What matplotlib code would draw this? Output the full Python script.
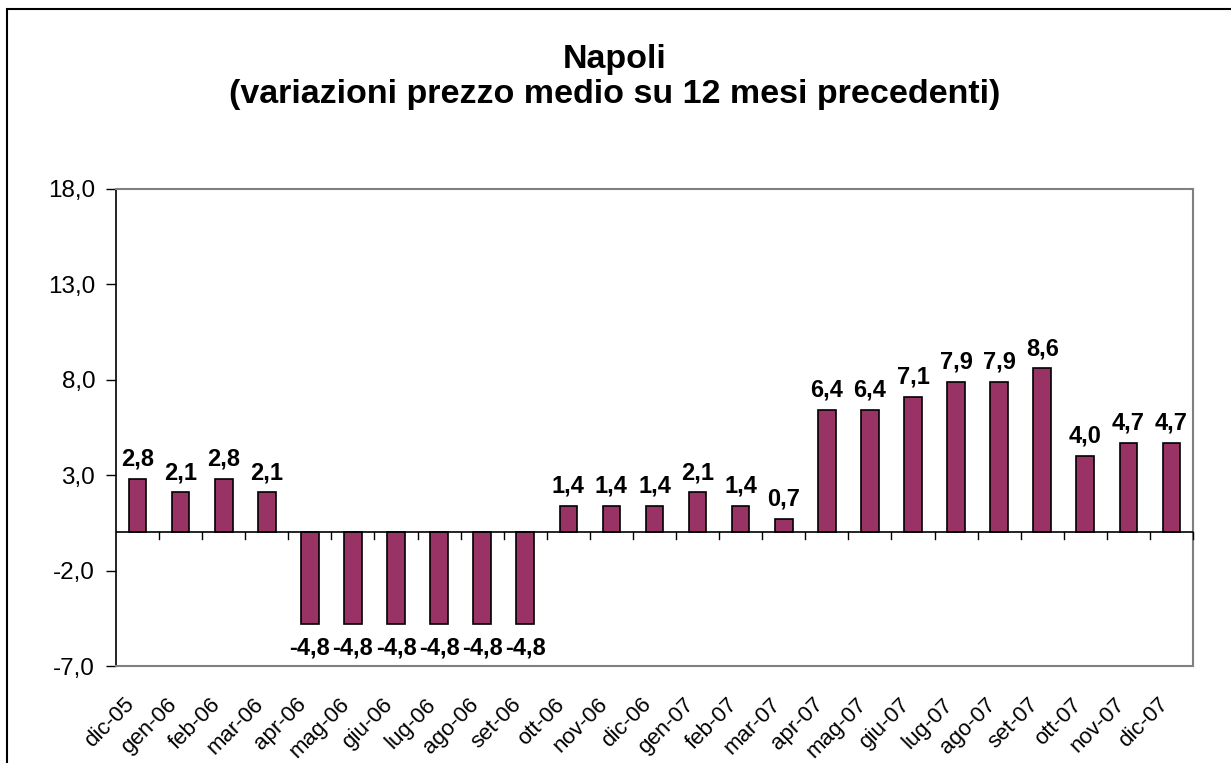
import matplotlib
matplotlib.use("Agg")
import matplotlib.pyplot as plt
import matplotlib.transforms as mtransforms
from matplotlib.patches import Rectangle
import numpy as np

categories = ["dic-05", "gen-06", "feb-06", "mar-06", "apr-06", "mag-06", "giu-06",
              "lug-06", "ago-06", "set-06", "ott-06", "nov-06", "dic-06", "gen-07",
              "feb-07", "mar-07", "apr-07", "mag-07", "giu-07", "lug-07", "ago-07",
              "set-07", "ott-07", "nov-07", "dic-07"]
values = [2.8, 2.1, 2.8, 2.1, -4.8, -4.8, -4.8, -4.8, -4.8, -4.8, 1.4, 1.4, 1.4,
          2.1, 1.4, 0.7, 6.4, 6.4, 7.1, 7.9, 7.9, 8.6, 4.0, 4.7, 4.7]
yticks = [-7.0, -2.0, 3.0, 8.0, 13.0, 18.0]
title = "Napoli\n(variazioni prezzo medio su 12 mesi precedenti)"

plt.rcParams['font.family'] = ['Liberation Sans', 'DejaVu Sans']

W, H = 1231, 763
fig = plt.figure(figsize=(W / 100, H / 100), dpi=100)
fig.patch.set_facecolor("white")

# outer frame (right/bottom run off the image)
fig.add_artist(Rectangle((7 / W, -0.1), 1.2, 1 - 9 / H + 0.1, transform=fig.transFigure,
                         fill=False, edgecolor="black", linewidth=1.5))

ax = fig.add_axes([116 / W, 1 - 666 / H, (1193 - 116) / W, (666 - 189) / H])
x = np.arange(len(categories))
ax.bar(x, values, width=0.41, color="#993366", edgecolor="black", linewidth=1.2, zorder=3)

ax.set_xlim(-0.5, len(categories) - 0.5)
ax.set_ylim(yticks[0], yticks[-1])
ax.set_yticks(yticks)
ax.set_yticklabels([f"{v:.1f}".replace(".", ",") for v in yticks], fontsize=17.5)
ax.tick_params(axis="y", direction="out", length=7, width=1, pad=8)

# zero line with category boundary ticks
ax.axhline(0, color="black", linewidth=1.2, zorder=4)
ax.set_xticks(x)
ax.set_xticklabels(categories, rotation=45, ha="right", va="top",
                   rotation_mode="anchor", fontsize=16)
ax.tick_params(axis="x", length=0, pad=0)
offset = mtransforms.ScaledTranslation(-14 / 100, -28 / 100, fig.dpi_scale_trans)
for lab in ax.get_xticklabels():
    lab.set_transform(lab.get_transform() + offset)
for b in np.arange(-0.5, len(categories), 1.0)[1:]:
    ax.plot([b, b], [0, -0.32], color="black", linewidth=1, zorder=4, clip_on=False)

for side in ["top", "right", "bottom"]:
    ax.spines[side].set_color("#808080")
    ax.spines[side].set_linewidth(1.5)
ax.spines["left"].set_color("black")
ax.spines["left"].set_linewidth(1.2)

for xi, v in zip(x, values):
    lab = f"{v:.1f}".replace(".", ",")
    if v >= 0:
        ax.annotate(lab, (xi, v), xytext=(0, 6), textcoords="offset points",
                    ha="center", va="bottom", fontsize=17, fontweight="bold")
    else:
        ax.annotate(lab, (xi, v), xytext=(0, -9), textcoords="offset points",
                    ha="center", va="top", fontsize=17, fontweight="bold")

fig.text(615 / W, 1 - 77 / H, title, ha="center", va="center", fontsize=24.5,
         fontweight="bold", linespacing=1.2)

fig.savefig("out.png", dpi=100)
